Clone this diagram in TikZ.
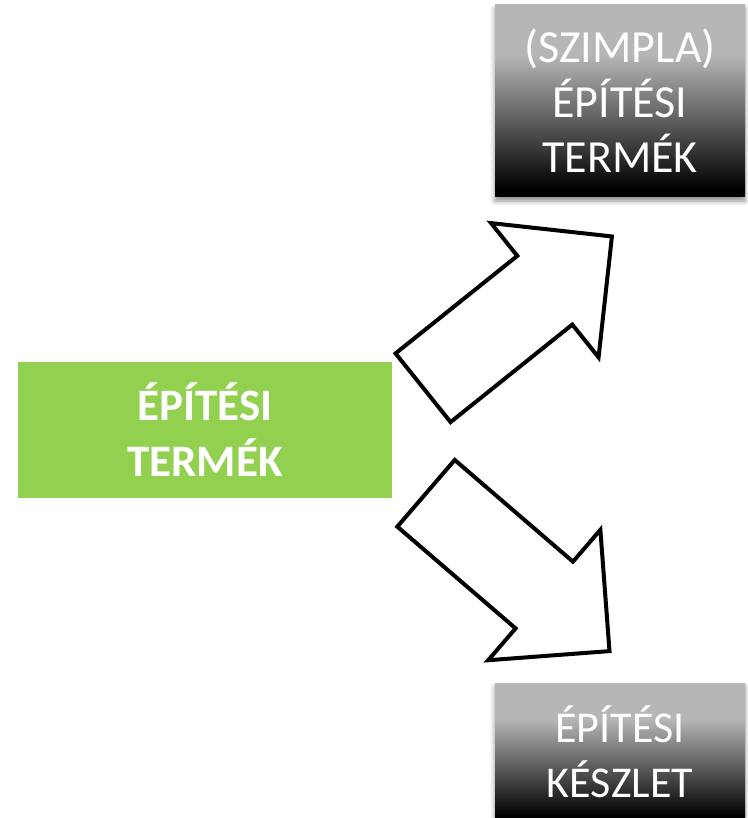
\documentclass[tikz,border=0pt]{standalone}
\usepackage{fontspec}
\setmainfont{Carlito}
\usetikzlibrary{shapes.arrows,shadows.blur}
\definecolor{termgreen}{RGB}{146,208,80}
\definecolor{boxgray}{RGB}{182,182,182}
\pgfdeclareverticalshading{grayfade}{100bp}{color(0bp)=(black);
  color(27bp)=(black); color(62bp)=(boxgray); color(100bp)=(boxgray)}

\begin{document}
\begin{tikzpicture}[x=1pt,y=-1pt]
  \tikzset{greenbox/.style={fill=termgreen,text=white,align=center,
      font=\bfseries\fontsize{45}{56}\selectfont,
      minimum width=374pt,minimum height=136pt,inner sep=0pt},
    graybox/.style={shading=grayfade,text=white,
      align=center,font=\fontsize{44}{55}\selectfont,
      minimum width=250pt,inner sep=0pt,
      blur shadow={shadow xshift=0pt,shadow yshift=-4pt,
        shadow blur radius=5pt,shadow opacity=45}},
    blockarrow/.style={single arrow,draw=black,line width=4pt,fill=white,
      inner sep=42pt,single arrow head extend=42pt,minimum height=242pt,
      anchor=tail}}
  \useasboundingbox (0,0) rectangle (747,818);
  % boxes
  \node[greenbox] (product) at (205,430) {ÉPÍTÉSI\\TERMÉK};
  \node[graybox,minimum height=192pt,font=\fontsize{46}{55}\selectfont]
    (simple) at (620,101) {(SZIMPLA)\\ÉPÍTÉSI\\TERMÉK};
  \node[graybox,minimum height=138pt] (kit) at (620,752)
    {ÉPÍTÉSI\\KÉSZLET};
  % block arrows
  \node[blockarrow,rotate=38.7] (toSimple) at (421.5,389) {};
  \node[blockarrow,rotate=-40.7] (toKit) at (424.5,492) {};
\end{tikzpicture}
\end{document}
